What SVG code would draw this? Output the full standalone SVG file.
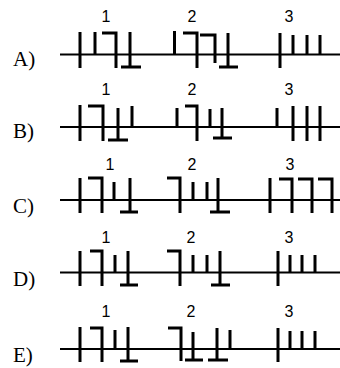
<svg xmlns="http://www.w3.org/2000/svg" width="340" height="368" viewBox="0 0 340 368">
<style>
.bg{fill:#fff}
.ln{stroke:#000;stroke-width:2;fill:none}
.st{stroke:#000;stroke-width:3;fill:none;stroke-linejoin:miter;stroke-linecap:butt}
.lab{font-family:"Liberation Serif",serif;font-size:21px;fill:#000}
.num{font-family:"Liberation Sans",Arial,sans-serif;font-size:16px;fill:#000;text-anchor:middle}
</style>
<rect class="bg" width="340" height="368"/>
<g id="rowA">
<text class="lab" x="13" y="66">A)</text>
<text class="num" x="106" y="22">1</text><text class="num" x="192" y="22">2</text><text class="num" x="289" y="22">3</text>
<path class="ln" d="M60 54.5H340"/>
<path class="st" d="M80 32V68M95 32V54M102 33H116V68M130 32V67M121 67H141"/>
<path class="st" d="M174.5 31V55M183 33H197V68M200 35H215V63M228 33V67M219 67H238"/>
<path class="st" d="M280 33V68M293 35V54M307 35V54M320 35V54"/>
</g>
<g id="rowB">
<text class="lab" x="13" y="138">B)</text>
<text class="num" x="106" y="95">1</text><text class="num" x="192" y="95">2</text><text class="num" x="289" y="95">3</text>
<path class="ln" d="M60 127H340"/>
<path class="st" d="M80 105V141M88 106H103V141M118 108V140M108 140H128M132 106V127"/>
<path class="st" d="M177 108V127M185 106H197V141M210 109V127M222 108V138M213 138H232"/>
<path class="st" d="M277 108V127M293 106V141M307 106V141M320 106V141"/>
</g>
<g id="rowC">
<text class="lab" x="13" y="213">C)</text>
<text class="num" x="110" y="170">1</text><text class="num" x="192" y="170">2</text><text class="num" x="290" y="170">3</text>
<path class="ln" d="M60 200H340"/>
<path class="st" d="M80 178V213M88 178H102V213M114 182V200M130 178V212M120 212H138"/>
<path class="st" d="M167 178H180V213M193 182V200M207 182V200M218 178V212M210 212H230"/>
<path class="st" d="M270 178V213M279 179H292V213M298 179H312V213M318 179H332V213"/>
</g>
<g id="rowD">
<text class="lab" x="13" y="286">D)</text>
<text class="num" x="106" y="243">1</text><text class="num" x="191" y="243">2</text><text class="num" x="289" y="243">3</text>
<path class="ln" d="M60 272.5H340"/>
<path class="st" d="M80 251V286M90 251H102V286M115 255V272M128 251V285M120 285H138"/>
<path class="st" d="M167 251H180V286M193 255V272M207 255V272M220 251V285M211 285H230"/>
<path class="st" d="M278 251V286M290 255V272M302 255V272M315 255V272"/>
</g>
<g id="rowE">
<text class="lab" x="13" y="362">E)</text>
<text class="num" x="106" y="317">1</text><text class="num" x="191" y="317">2</text><text class="num" x="289" y="317">3</text>
<path class="ln" d="M60 349H340"/>
<path class="st" d="M80 327V362M90 328H102V362M115 330V349M128 327V361M120 361H138"/>
<path class="st" d="M168 328H181V361M193 332V360M185 360H203M217 328V360M208 360H228M230 330V349"/>
<path class="st" d="M278 328V362M290 331V349M302 331V349M315 331V349"/>
</g>
</svg>
